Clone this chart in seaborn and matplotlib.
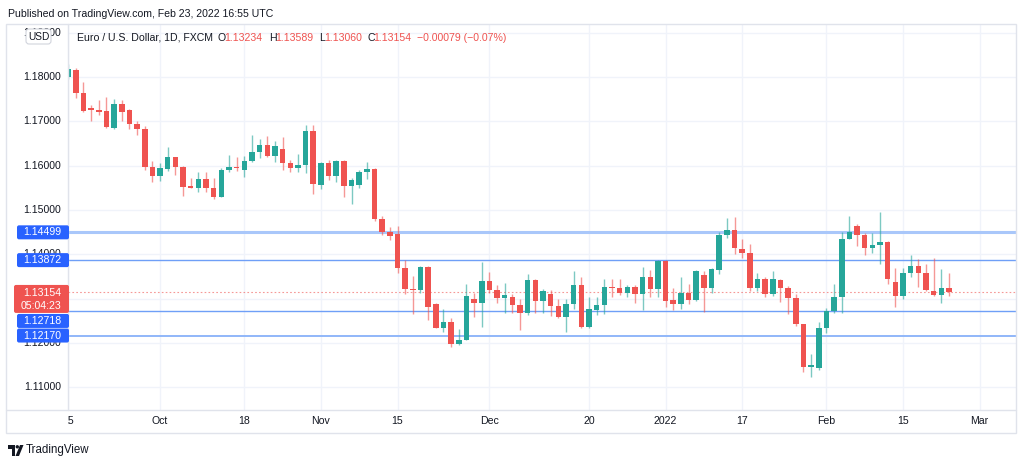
import numpy as np
import pandas as pd
import matplotlib
matplotlib.use("Agg")
import matplotlib.pyplot as plt
import seaborn as sns
from matplotlib.patches import FancyBboxPatch, Rectangle, Polygon, Circle
from matplotlib.lines import Line2D
from matplotlib.transforms import Affine2D, blended_transform_factory

# ---- data (EUR/USD daily, FXCM) ----
first_day = "2021-09-15"
last_day = "2022-02-23"

opens = [1.1801, 1.1817, 1.1765, 1.1730, 1.1726, 1.1723, 1.1686, 1.1739, 1.1726, 1.1695,
         1.1684, 1.1597, 1.1576, 1.1593, 1.1619, 1.1597, 1.1554, 1.1550, 1.1570, 1.1550,
         1.1530, 1.1591, 1.1598, 1.1591, 1.1610, 1.1631, 1.1647, 1.1623, 1.1638, 1.1606,
         1.1595, 1.1602, 1.1679, 1.1556, 1.1606, 1.1578, 1.1611, 1.1554, 1.1556, 1.1585,
         1.1593, 1.1479, 1.1450, 1.1447, 1.1369, 1.1321, 1.1320, 1.1372, 1.1288, 1.1235,
         1.1248, 1.1197, 1.1207, 1.1300, 1.1291, 1.1339, 1.1320, 1.1302, 1.1303, 1.1285,
         1.1267, 1.1342, 1.1294, 1.1310, 1.1284, 1.1259, 1.1288, 1.1330, 1.1236, 1.1275,
         1.1286, 1.1327, 1.1324, 1.1312, 1.1327, 1.1310, 1.1348, 1.1323, 1.1385, 1.1297,
         1.1288, 1.1314, 1.1297, 1.1354, 1.1325, 1.1366, 1.1443, 1.1455, 1.1413, 1.1404,
         1.1325, 1.1344, 1.1311, 1.1342, 1.1325, 1.1302, 1.1242, 1.1147, 1.1143, 1.1235,
         1.1273, 1.1303, 1.1435, 1.1465, 1.1443, 1.1415, 1.1421, 1.1429, 1.1338, 1.1306,
         1.1359, 1.1374, 1.1359, 1.1318, 1.1308, 1.13234]

highs = [1.1830, 1.1821, 1.1789, 1.1737, 1.1749, 1.1756, 1.1751, 1.1748, 1.1728, 1.1702,
         1.1690, 1.1610, 1.1606, 1.1642, 1.1621, 1.1600, 1.1573, 1.1587, 1.1585, 1.1572,
         1.1594, 1.1624, 1.1619, 1.1623, 1.1670, 1.1660, 1.1668, 1.1656, 1.1665, 1.1612,
         1.1627, 1.1693, 1.1691, 1.1609, 1.1614, 1.1614, 1.1614, 1.1572, 1.1591, 1.1608,
         1.1595, 1.1486, 1.1462, 1.1465, 1.1387, 1.1351, 1.1375, 1.1375, 1.1291, 1.1276,
         1.1257, 1.1231, 1.1333, 1.1312, 1.1384, 1.1361, 1.1330, 1.1335, 1.1310, 1.1299,
         1.1357, 1.1344, 1.1321, 1.1320, 1.1299, 1.1300, 1.1363, 1.1349, 1.1305, 1.1304,
         1.1344, 1.1344, 1.1344, 1.1330, 1.1330, 1.1371, 1.1365, 1.1387, 1.1387, 1.1324,
         1.1348, 1.1333, 1.1366, 1.1363, 1.1370, 1.1450, 1.1483, 1.1485, 1.1435, 1.1423,
         1.1359, 1.1350, 1.1363, 1.1344, 1.1329, 1.1310, 1.1244, 1.1175, 1.1248, 1.1280,
         1.1333, 1.1450, 1.1486, 1.1468, 1.1449, 1.1449, 1.1495, 1.1431, 1.1370, 1.1370,
         1.1398, 1.1389, 1.1378, 1.1392, 1.1368, 1.13589]

lows = [1.1795, 1.1752, 1.1722, 1.1701, 1.1715, 1.1686, 1.1684, 1.1700, 1.1684, 1.1669,
        1.1591, 1.1563, 1.1565, 1.1588, 1.1580, 1.1531, 1.1549, 1.1542, 1.1540, 1.1525,
        1.1529, 1.1586, 1.1589, 1.1574, 1.1608, 1.1617, 1.1621, 1.1608, 1.1591, 1.1586,
        1.1585, 1.1584, 1.1536, 1.1548, 1.1569, 1.1563, 1.1529, 1.1514, 1.1551, 1.1570,
        1.1476, 1.1445, 1.1433, 1.1359, 1.1310, 1.1265, 1.1314, 1.1252, 1.1234, 1.1226,
        1.1192, 1.1195, 1.1206, 1.1259, 1.1237, 1.1312, 1.1290, 1.1269, 1.1268, 1.1230,
        1.1263, 1.1269, 1.1267, 1.1261, 1.1257, 1.1224, 1.1278, 1.1234, 1.1234, 1.1263,
        1.1265, 1.1305, 1.1308, 1.1305, 1.1291, 1.1274, 1.1305, 1.1305, 1.1282, 1.1275,
        1.1277, 1.1288, 1.1295, 1.1270, 1.1314, 1.1357, 1.1438, 1.1402, 1.1393, 1.1318,
        1.1318, 1.1303, 1.1306, 1.1293, 1.1265, 1.1239, 1.1134, 1.1124, 1.1140, 1.1222,
        1.1269, 1.1269, 1.1434, 1.1419, 1.1398, 1.1404, 1.1378, 1.1333, 1.1282, 1.1299,
        1.1348, 1.1326, 1.1317, 1.1306, 1.1290, 1.13060]

closes = [1.1818, 1.1764, 1.1724, 1.1725, 1.1721, 1.1687, 1.1740, 1.1721, 1.1695, 1.1683,
          1.1597, 1.1576, 1.1594, 1.1619, 1.1597, 1.1552, 1.1550, 1.1571, 1.1549, 1.1530,
          1.1591, 1.1597, 1.1594, 1.1610, 1.1631, 1.1647, 1.1623, 1.1645, 1.1606, 1.1595,
          1.1602, 1.1679, 1.1560, 1.1606, 1.1578, 1.1611, 1.1554, 1.1567, 1.1586, 1.1593,
          1.1479, 1.1451, 1.1442, 1.1369, 1.1321, 1.1319, 1.1372, 1.1282, 1.1235, 1.1248,
          1.1198, 1.1208, 1.1306, 1.1291, 1.1339, 1.1320, 1.1301, 1.1308, 1.1285, 1.1268,
          1.1342, 1.1294, 1.1318, 1.1284, 1.1259, 1.1288, 1.1330, 1.1236, 1.1276, 1.1286,
          1.1327, 1.1324, 1.1312, 1.1327, 1.1310, 1.1348, 1.1323, 1.1385, 1.1295, 1.1288,
          1.1314, 1.1297, 1.1363, 1.1325, 1.1368, 1.1443, 1.1455, 1.1415, 1.1404, 1.1325,
          1.1344, 1.1311, 1.1344, 1.1325, 1.1302, 1.1242, 1.1146, 1.1150, 1.1235, 1.1273,
          1.1303, 1.1435, 1.1451, 1.1443, 1.1415, 1.1421, 1.1428, 1.1345, 1.1306, 1.1359,
          1.1374, 1.1359, 1.1320, 1.1308, 1.13233, 1.13154]

tick_days = ["2021-09-15", "2021-10-01", "2021-10-18", "2021-11-01", "2021-11-15", "2021-12-01",
             "2021-12-20", "2022-01-03", "2022-01-17", "2022-02-01", "2022-02-15", "2022-03-01"]
tick_labels = ["15", "Oct", "18", "Nov", "15", "Dec", "20", "2022", "17", "Feb", "15", "Mar"]

price_ticks = [1.11, 1.12, 1.13, 1.14, 1.15, 1.16, 1.17, 1.18, 1.19]

levels = [1.14499, 1.13872, 1.12718, 1.12170]
countdown = "05:04:23"

title_name = "Euro / U.S. Dollar, 1D, FXCM"
published = "Published on TradingView.com, Feb 23, 2022 16:55 UTC"

# ---- style ----
GREEN = "#26a69a"
RED = "#ef5350"
BLUE = "#2962ff"
TXT = "#131722"
GRID = "#f0f3fa"
FRAME = "#e0e3eb"
level_styles = [("#a9c7fa", 2.2), ("#6f9ff7", 1.0), ("#6f9ff7", 1.0), ("#90b7f9", 1.4)]

sns.set_theme(style="white")
plt.rcParams["font.family"] = ["Liberation Sans", "DejaVu Sans"]

W, H = 1024, 466
fig = plt.figure(figsize=(W / 100, H / 100), dpi=100)
fig.patch.set_facecolor("white")
px = Affine2D().scale(1, -1).translate(0, H)  # pixel coords, y from top


def ftext(x, y, s, **kw):
    kw.setdefault("fontsize", 7.6)
    kw.setdefault("color", TXT)
    return fig.text(x / W, 1 - y / H, s, **kw)


days = pd.bdate_range(first_day, "2022-03-04")
n = len(pd.bdate_range(first_day, last_day))
assert n == len(opens)
day_pos = {d.strftime("%Y-%m-%d"): i for i, d in enumerate(days)}

# ---- main price pane ----
ax = fig.add_axes([68 / W, 1 - 410 / H, 948 / W, 386 / H])
ax.set_xlim(-0.02, 123.75)
ax.set_ylim(1.1049, 1.1920)
ax.set_axis_off()

for p in price_ticks:
    ax.axhline(p, color=GRID, lw=1, zorder=0)
for d in tick_days:
    ax.axvline(day_pos[d], color=GRID, lw=1, zorder=0)

for lvl, (col, lw) in zip(levels, level_styles):
    ax.axhline(lvl, color=col, lw=lw, zorder=1)
ax.axhline(closes[-1], color=RED, lw=0.8, ls=(0, (1.5, 2)), alpha=0.6, zorder=1.5)

x = np.arange(n)
o = np.array(opens)
c = np.array(closes)
up = c >= o
colors = np.where(up, GREEN, RED)
ax.vlines(x, lows, highs, colors=colors, lw=1.0, alpha=0.6, zorder=2)
body_low = np.minimum(o, c)
body_h = np.maximum(np.abs(c - o), 0.0002)
ax.bar(x, body_h, bottom=body_low, width=0.72, color=colors, lw=0, zorder=3)

# ---- price scale labels ----
trans_p = blended_transform_factory(fig.transFigure, ax.transData)
for p in price_ticks:
    ax.text(61 / W, p, f"{p:.5f}", transform=trans_p, ha="right", va="center",
            fontsize=7.6, color=TXT, clip_on=False)

# ---- date scale ----
ax_d = fig.add_axes([68 / W, 1 - 433 / H, 948 / W, 23 / H])
ax_d.set_xlim(ax.get_xlim())
ax_d.set_axis_off()
trans_d = blended_transform_factory(ax_d.transData, ax_d.transAxes)
for d, lbl in zip(tick_days, tick_labels):
    ax_d.text(day_pos[d], 0.5, lbl, transform=trans_d, ha="center", va="center",
              fontsize=7.6, color=TXT, clip_on=True)

# ---- frame ----
fig.add_artist(Rectangle((6, 24), 1010, 409, transform=px, fill=False, ec=FRAME, lw=1))
fig.add_artist(Line2D([68, 68], [24, 410], transform=px, color=FRAME, lw=1))
fig.add_artist(Line2D([6, 1016], [410, 410], transform=px, color=FRAME, lw=1))


def ypix(price):
    return H - ax.transData.transform((0, price))[1]


def label_box(x0, x1, y0, y1, color):
    fig.add_artist(FancyBboxPatch((x0, y0), x1 - x0, y1 - y0, transform=px,
                                  boxstyle="round,pad=0,rounding_size=2",
                                  fc=color, ec="none", zorder=5))


# last price label (red, with countdown)
y_last = ypix(closes[-1])
red_top, red_bot = y_last - 7, y_last + 21
label_box(14, 69, red_top, red_bot, RED)
ftext(61, y_last + 1, f"{closes[-1]:.5f}", ha="right", va="center", color="white", zorder=6)
ftext(61, y_last + 14, countdown, ha="right", va="center", color="white", zorder=6)

# level labels (blue), pushed below the red label when they collide
for lvl in levels:
    yc = ypix(lvl)
    y0, y1 = yc - 7, yc + 7
    if y1 > red_top and y0 < red_bot:
        y0, y1 = red_bot + 1, red_bot + 15
    label_box(17, 69, y0, y1, BLUE)
    ftext(61, (y0 + y1) / 2, f"{lvl:.5f}", ha="right", va="center", color="white", zorder=6)

# currency badge
fig.add_artist(FancyBboxPatch((26, 29), 25, 15, transform=px,
                              boxstyle="round,pad=0,rounding_size=3",
                              fc="white", ec="#d1d4dc", lw=0.8, zorder=5))
ftext(38.5, 36.5, "USD", ha="center", va="center", fontsize=7.3, zorder=6)

# ---- header ----
ftext(8, 14, published, ha="left", va="center", fontsize=7.6)
chg = closes[-1] - closes[-2]
pct = chg / closes[-2] * 100
chg_txt = f"{chg:+.5f} ({pct:+.2f}%)".replace("-", "\u2212")
segments = [(77, title_name, TXT),
            (217, "O", TXT), (224, f"{opens[-1]:.5f}", RED),
            (269, "H", TXT), (275, f"{highs[-1]:.5f}", RED),
            (319, "L", TXT), (324, f"{lows[-1]:.5f}", RED),
            (367, "C", TXT), (373, f"{closes[-1]:.5f}", RED),
            (417, chg_txt, RED)]
for xs, s, col in segments:
    ftext(xs, 38, s, ha="left", va="center", color=col)

# ---- footer logo ----
fig.add_artist(Polygon([(8, 445), (15, 445), (15, 456), (12, 456), (12, 448.5), (8, 448.5)],
                       closed=True, transform=px, fc=TXT, ec="none"))
fig.add_artist(Circle((17.3, 446.8), 1.7, transform=px, fc=TXT, ec="none"))
fig.add_artist(Polygon([(20, 445), (23.5, 445), (19, 456), (15.5, 456)],
                       closed=True, transform=px, fc=TXT, ec="none"))
ftext(26, 450.5, "TradingView", ha="left", va="center", fontsize=8.3)

fig.savefig("out.png", dpi=100, facecolor="white")
